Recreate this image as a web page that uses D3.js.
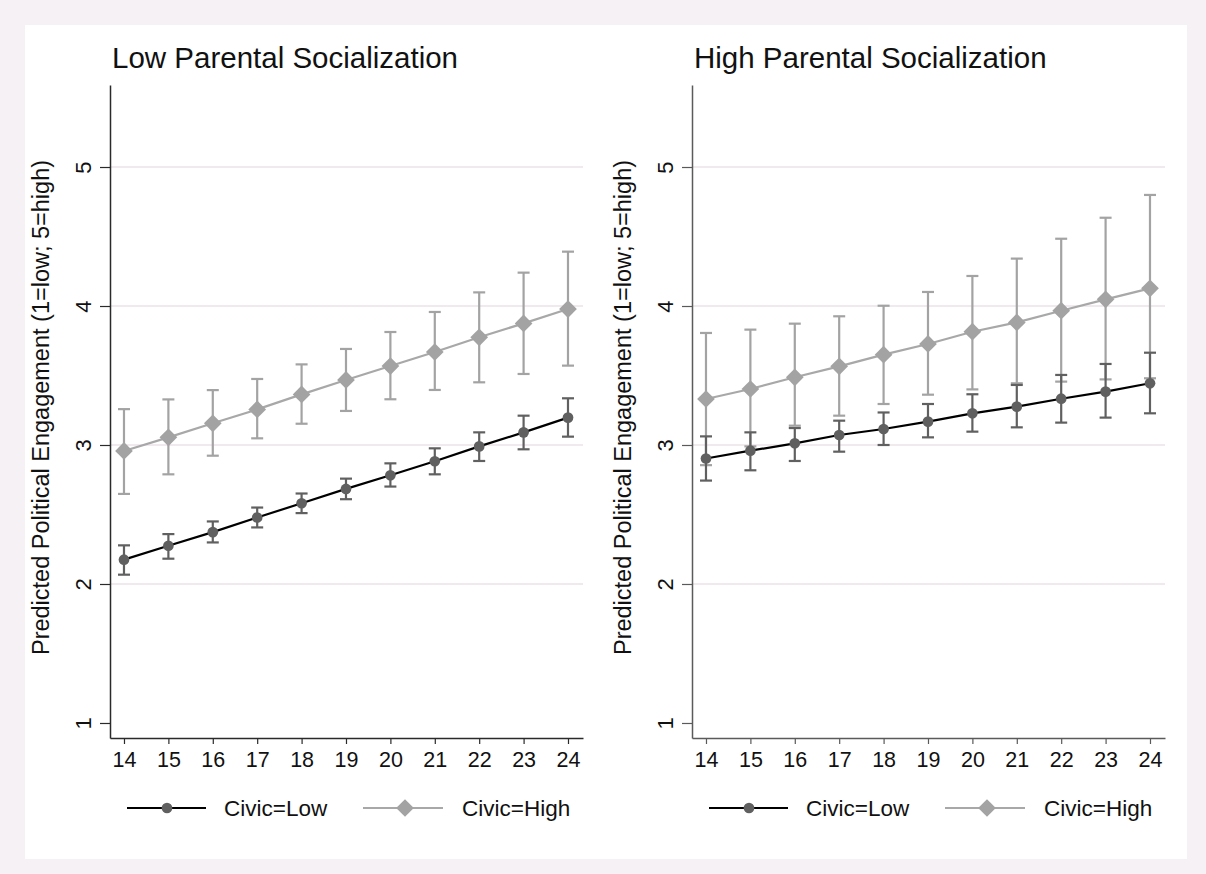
<!DOCTYPE html>
<html><head><meta charset="utf-8">
<script src="https://cdn.jsdelivr.net/npm/d3@7"></script>
<style>
html,body{margin:0;padding:0;background:#f5f1f5;}
text{font-family:"Liberation Sans",Arial,sans-serif;fill:#111;}
</style></head>
<body><svg id="c" width="1206" height="874"></svg>
<script>
// ---- data ----
const ages = [14,15,16,17,18,19,20,21,22,23,24];
const yTicks = [1,2,3,4,5];
const panelTitles = ["Low Parental Socialization","High Parental Socialization"];
const seriesNames = ["Civic=Low","Civic=High"];
const yLabel = "Predicted Political Engagement (1=low; 5=high)";

// Panel 1: Low parental socialization
const p1LowEst = [2.175,2.275,2.373,2.478,2.581,2.684,2.782,2.883,2.990,3.091,3.197];
const p1LowLo  = [2.067,2.182,2.299,2.407,2.510,2.610,2.701,2.789,2.885,2.969,3.060];
const p1LowHi  = [2.278,2.359,2.450,2.550,2.651,2.758,2.868,2.976,3.091,3.211,3.336];
const p1HighEst = [2.957,3.055,3.156,3.256,3.364,3.468,3.568,3.669,3.775,3.875,3.978];
const p1HighLo  = [2.648,2.789,2.923,3.048,3.153,3.245,3.329,3.396,3.451,3.511,3.571];
const p1HighHi  = [3.258,3.328,3.395,3.475,3.580,3.691,3.813,3.957,4.098,4.240,4.391];

// Panel 2: High parental socialization
const p2LowEst = [2.903,2.959,3.012,3.072,3.115,3.168,3.228,3.276,3.333,3.384,3.444];
const p2LowLo  = [2.744,2.818,2.885,2.952,3.000,3.055,3.096,3.127,3.161,3.197,3.228];
const p2LowHi  = [3.062,3.091,3.122,3.175,3.234,3.295,3.365,3.432,3.504,3.583,3.664];
const p2HighEst = [3.331,3.403,3.487,3.566,3.650,3.727,3.815,3.882,3.966,4.048,4.127];
const p2HighLo  = [2.855,2.990,3.139,3.211,3.295,3.362,3.400,3.444,3.456,3.472,3.480];
const p2HighHi  = [3.806,3.830,3.873,3.926,4.002,4.101,4.216,4.341,4.484,4.635,4.799];

const panels = [
  {title:panelTitles[0], low:[p1LowEst,p1LowLo,p1LowHi], high:[p1HighEst,p1HighLo,p1HighHi], x0:110, axisCol:"#2a2a2a"},
  {title:panelTitles[1], low:[p2LowEst,p2LowLo,p2LowHi], high:[p2HighEst,p2HighLo,p2HighHi], x0:692, axisCol:"#5a5a5a"}
];

// ---- drawing ----
const svg = d3.select("#c");
svg.append("rect").attr("x",25).attr("y",25).attr("width",1162).attr("height",834).attr("fill","#fff");

const plotW = 473, plotTop = 85, plotBot = 738;
const xDom = [13.685, 24.338], yDom = [0.892, 5.59];
const lowCol = "#606060", highCol = "#a3a3a3";

panels.forEach(p => {
  const g = svg.append("g");
  const x = d3.scaleLinear().domain(xDom).range([p.x0, p.x0 + plotW]);
  const y = d3.scaleLinear().domain(yDom).range([plotBot, plotTop]);

  // gridlines
  g.selectAll("line.grid").data(yTicks.filter(t=>t>1)).join("line")
    .attr("x1",p.x0).attr("x2",p.x0+plotW).attr("y1",d=>y(d)).attr("y2",d=>y(d))
    .attr("stroke","#f0eaee").attr("stroke-width",2);

  // axes
  const yAx = g.append("g").attr("transform",`translate(${p.x0},0)`)
    .call(d3.axisLeft(y).tickValues(yTicks).tickFormat(d3.format("d")).tickSize(10).tickSizeOuter(0));
  yAx.attr("font-family",null);
  yAx.select(".domain").attr("stroke",p.axisCol).attr("stroke-width",1.5);
  yAx.selectAll(".tick line").attr("stroke",p.axisCol).attr("stroke-width",1.2);
  yAx.selectAll(".tick text").attr("font-size",22).attr("fill","#111")
    .attr("text-anchor","middle").attr("dy",0).attr("x",0).attr("y",0)
    .attr("transform","translate(-19,0) rotate(-90)");

  const xAx = g.append("g").attr("transform",`translate(0,${plotBot})`)
    .call(d3.axisBottom(x).tickValues(ages).tickFormat(d3.format("d")).tickSize(6).tickPadding(8).tickSizeOuter(0));
  xAx.attr("font-family",null);
  xAx.select(".domain").attr("stroke",p.axisCol).attr("stroke-width",1.5);
  xAx.selectAll(".tick line").attr("stroke",p.axisCol).attr("stroke-width",1.2);
  xAx.selectAll(".tick text").attr("font-size",21.5).attr("fill","#111");

  // title
  g.append("text").attr("x",p.x0+2).attr("y",68).attr("font-size",29.5).text(p.title);

  // y label
  g.append("text").attr("transform",`translate(${p.x0-61},${(plotTop+plotBot)/2 - 4}) rotate(-90)`)
    .attr("text-anchor","middle").attr("font-size",23.5).text(yLabel);

  // series
  const series = [
    {d:p.high, col:highCol, lineCol:"#a8a8a8", shape:"diamond"},
    {d:p.low, col:lowCol, lineCol:"#000", shape:"circle"}
  ];
  series.forEach(s => {
    const [est,lo,hi] = s.d;
    const pts = ages.map((a,i)=>({a, e:est[i], l:lo[i], h:hi[i]}));
    const eb = g.append("g").attr("stroke",s.col).attr("stroke-width",2.2).attr("fill","none");
    eb.selectAll("line.v").data(pts).join("line")
      .attr("x1",d=>x(d.a)).attr("x2",d=>x(d.a)).attr("y1",d=>y(d.l)).attr("y2",d=>y(d.h));
    eb.selectAll("line.t").data(pts).join("line")
      .attr("x1",d=>x(d.a)-6).attr("x2",d=>x(d.a)+6).attr("y1",d=>y(d.h)).attr("y2",d=>y(d.h));
    eb.selectAll("line.b").data(pts).join("line")
      .attr("x1",d=>x(d.a)-6).attr("x2",d=>x(d.a)+6).attr("y1",d=>y(d.l)).attr("y2",d=>y(d.l));
  });
  series.forEach(s => {
    const [est] = s.d;
    const pts = ages.map((a,i)=>({a, e:est[i]}));
    g.append("path").datum(pts)
      .attr("d", d3.line().x(d=>x(d.a)).y(d=>y(d.e)))
      .attr("fill","none").attr("stroke",s.lineCol).attr("stroke-width",2.2);
    const sym = d3.symbol().type(s.shape==="diamond"?d3.symbolDiamond2:d3.symbolCircle).size(s.shape==="diamond"?200:90);
    g.selectAll(null).data(pts).join("path")
      .attr("transform",d=>`translate(${x(d.a)},${y(d.e)})`)
      .attr("d",sym).attr("fill",s.col);
  });

  // legend
  const ly = 808;
  const lg = g.append("g");
  const leg = [
    {x1:p.x0+17, x2:p.x0+96, mx:p.x0+57, tx:p.x0+114, col:lowCol, lineCol:"#000", shape:"circle", name:seriesNames[0]},
    {x1:p.x0+253, x2:p.x0+333, mx:p.x0+295, tx:p.x0+352, col:highCol, lineCol:"#a8a8a8", shape:"diamond", name:seriesNames[1]}
  ];
  leg.forEach(l => {
    lg.append("line").attr("x1",l.x1).attr("x2",l.x2).attr("y1",ly).attr("y2",ly)
      .attr("stroke",l.lineCol).attr("stroke-width",2.2);
    const sym = d3.symbol().type(l.shape==="diamond"?d3.symbolDiamond2:d3.symbolCircle).size(l.shape==="diamond"?200:90);
    lg.append("path").attr("transform",`translate(${l.mx},${ly})`).attr("d",sym).attr("fill",l.col);
    lg.append("text").attr("x",l.tx).attr("y",ly+8).attr("font-size",22.5).text(l.name);
  });
});
</script></body></html>
